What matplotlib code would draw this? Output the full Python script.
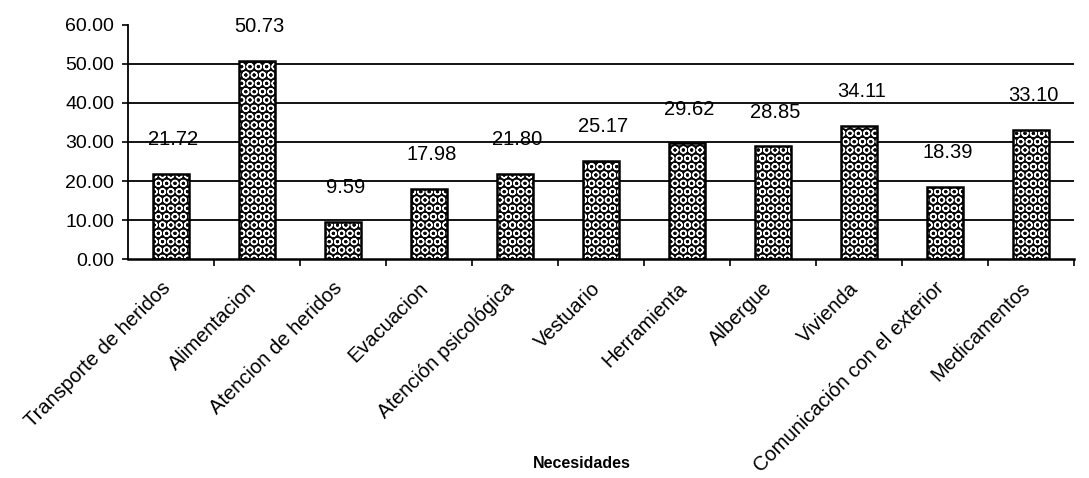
import numpy as np
import matplotlib.pyplot as plt
import matplotlib.transforms as mtransforms

plt.rcParams['font.family'] = ['Liberation Sans', 'DejaVu Sans']

# datos
necesidades = ['Transporte de heridos', 'Alimentacion', 'Atencion de heridos',
               'Evacuacion', 'Atención psicológica', 'Vestuario', 'Herramienta',
               'Albergue', 'Vivienda', 'Comunicación con el exterior', 'Medicamentos']
valores = [21.72, 50.73, 9.59, 17.98, 21.80, 25.17, 29.62, 28.85, 34.11, 18.39, 33.10]
yticks = [0, 10, 20, 30, 40, 50, 60]

fs = 14

fig = plt.figure(figsize=(10.89, 4.78), dpi=100)
ax = fig.add_axes([0.1175, 0.458, 0.8685, 0.49])

x = np.arange(len(necesidades))

# lineas de division
for v in yticks[1:-1]:
    ax.axhline(v, color='black', lw=1.3, zorder=0)

# relleno con circulos
ax.bar(x, valores, width=0.42, color='#0a0a0a', edgecolor='white', hatch='OO', lw=0, zorder=2)
ax.bar(x, valores, width=0.42, color='none', edgecolor='black', lw=1.8, zorder=3)

# etiquetas de valor
for xi, v in zip(x, valores):
    ax.text(xi + 0.03, v + 8.8, f'{v:.2f}', ha='center', va='center', fontsize=fs + 0.5)

ax.set_xlim(-0.5, len(necesidades) - 0.5)
ax.set_ylim(0, 60)
ax.set_yticks(yticks)
ax.set_yticklabels([f'{v:.2f}' for v in yticks], fontsize=fs)

ax.set_xticks(x)
ax.set_xticklabels(necesidades, rotation=45, ha='right', rotation_mode='anchor', fontsize=fs + 0.5)
ax.set_xticks(np.arange(0.5, len(necesidades) - 0.4, 1), minor=True)
ax.tick_params(axis='x', which='major', length=0, pad=14)
ax.tick_params(axis='x', which='minor', length=5, width=1.2, direction='out')
ax.tick_params(axis='y', length=4, width=1.2, direction='out', pad=6)

desplaza = mtransforms.ScaledTranslation(-10 / 100, 0, fig.dpi_scale_trans)
for lbl in ax.get_xticklabels():
    lbl.set_transform(lbl.get_transform() + desplaza)

ax.spines['top'].set_visible(False)
ax.spines['right'].set_visible(False)
ax.spines['left'].set_linewidth(1.3)
ax.spines['bottom'].set_linewidth(1.8)

ax.set_xlabel('Necesidades', fontsize=11.5, fontweight='bold')
ax.xaxis.set_label_coords(0.48, -0.84)

fig.savefig('out.png', dpi=100)
